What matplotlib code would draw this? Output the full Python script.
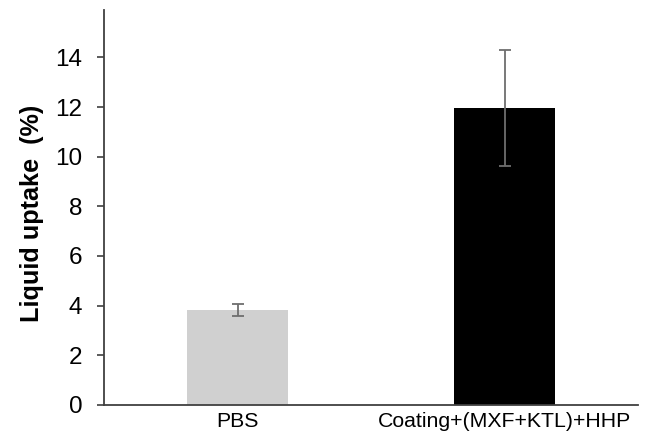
import matplotlib
matplotlib.use("Agg")
import matplotlib.pyplot as plt
import numpy as np

plt.rcParams["font.family"] = ["Liberation Sans", "DejaVu Sans"]

groups = ["PBS", "Coating+(MXF+KTL)+HHP"]
uptake = [3.82, 11.95]
uptake_err = [0.25, 2.33]
bar_colors = ["#d0d0d0", "#000000"]
yticks = [0, 2, 4, 6, 8, 10, 12, 14]

fig = plt.figure(figsize=(6.46, 4.43), dpi=100)
ax = fig.add_axes([0.161, 0.086, 0.827, 0.891])

x = np.arange(len(groups))
ax.bar(x, uptake, width=0.38, color=bar_colors, zorder=2)
ax.errorbar(x, uptake, yerr=uptake_err, fmt="none", ecolor="#6e6e6e",
            elinewidth=1.3, capsize=4.5, capthick=1.3, zorder=3)

ax.set_xlim(-0.5, 1.5)
ax.set_ylim(0, 15.9)
ax.set_yticks(yticks)
ax.set_xticks(x)
ax.set_xticklabels(groups, fontsize=15.3)
ax.tick_params(axis="y", labelsize=17.5, length=5, width=1.2, color="#404040", pad=10.5)
ax.tick_params(axis="x", length=0, pad=5)

for s in ["top", "right"]:
    ax.spines[s].set_visible(False)
for s in ["left", "bottom"]:
    ax.spines[s].set_color("#404040")
    ax.spines[s].set_linewidth(1.3)

ax.set_ylabel("Liquid uptake  (%)", fontsize=18.2, fontweight="bold")
# label sits a little below the axes centre in the original
ax.yaxis.set_label_coords(-0.112, 0.484)

fig.savefig("out.png", dpi=100)
